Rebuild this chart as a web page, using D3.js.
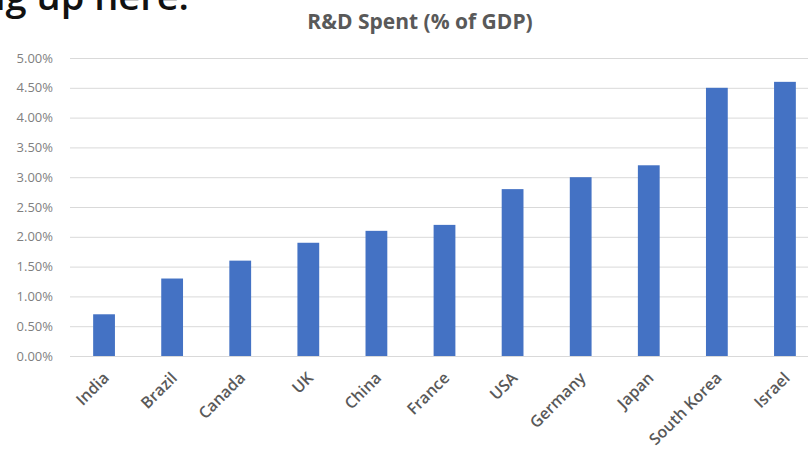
<!DOCTYPE html>
<html>
<head>
<meta charset="utf-8">
<script src="https://cdn.jsdelivr.net/npm/d3@7"></script>
<style>
  html, body { margin: 0; padding: 0; background: #fff; overflow: hidden; }
  svg { display: block; }
</style>
</head>
<body>
<svg id="chart" width="808" height="452"></svg>
<script>
// R&D spending by country, as a share of GDP (%)
const countries = ["India", "Brazil", "Canada", "UK", "China", "France", "USA", "Germany", "Japan", "South Korea", "Israel"];
const rdShare = [0.7, 1.3, 1.6, 1.9, 2.1, 2.2, 2.8, 3.0, 3.2, 4.5, 4.6];
const yTicks = [0, 0.5, 1.0, 1.5, 2.0, 2.5, 3.0, 3.5, 4.0, 4.5, 5.0];
const chartTitle = "R&D Spent (% of GDP)";
const headline = "ig up here.";

const svg = d3.select("#chart");
const plot = { left: 70, right: 819, top: 58, bottom: 356 };

const x = d3.scaleBand()
  .domain(countries)
  .range([plot.left, plot.right])
  .paddingInner(0.68)
  .paddingOuter(0.34);

const y = d3.scaleLinear()
  .domain([0, 5])
  .range([plot.bottom, plot.top]);

// slide headline running along the top edge
svg.append("text")
  .attr("x", -5)
  .attr("y", 10)
  .attr("font-family", "Open Sans, Noto Sans, sans-serif")
  .attr("font-weight", 600)
  .attr("font-size", 38)
  .attr("fill", "#111")
  .text(headline);

// title
svg.append("text")
  .attr("x", 420)
  .attr("y", 29)
  .attr("text-anchor", "middle")
  .attr("font-family", "Open Sans, Noto Sans, sans-serif")
  .attr("font-weight", "bold")
  .attr("font-size", 21)
  .attr("fill", "#595959")
  .text(chartTitle);

// gridlines + y labels
const yAxis = d3.axisLeft(y)
  .tickValues(yTicks)
  .tickSize(-(plot.right - plot.left))
  .tickPadding(17)
  .tickFormat(d => d.toFixed(2) + "%");

const gy = svg.append("g")
  .attr("transform", `translate(${plot.left},0)`)
  .call(yAxis);
gy.select(".domain").remove();
gy.selectAll(".tick line").attr("stroke", "#d9d9d9").attr("stroke-width", 1);
gy.selectAll(".tick text")
  .attr("font-family", "Open Sans, Noto Sans, sans-serif")
  .attr("font-size", 13)
  .attr("fill", "#7f7f7f");

// bars
svg.append("g")
  .selectAll("rect")
  .data(countries)
  .join("rect")
  .attr("x", d => x(d))
  .attr("width", x.bandwidth())
  .attr("y", (d, i) => y(rdShare[i]))
  .attr("height", (d, i) => y(0) - y(rdShare[i]))
  .attr("fill", "#4472C4");

// x labels
const xAxis = d3.axisBottom(x).tickSize(0).tickPadding(0);
const gx = svg.append("g")
  .attr("transform", `translate(0,${plot.bottom})`)
  .call(xAxis);
gx.select(".domain").remove();
gx.selectAll(".tick text")
  .attr("font-family", "Open Sans, Noto Sans, sans-serif")
  .attr("font-size", 16)
  .attr("font-weight", 600)
  .attr("fill", "#595959")
  .attr("text-anchor", "end")
  .attr("y", 0)
  .attr("dy", null)
  .attr("transform", "translate(6,23) rotate(-45)");
</script>
</body>
</html>
